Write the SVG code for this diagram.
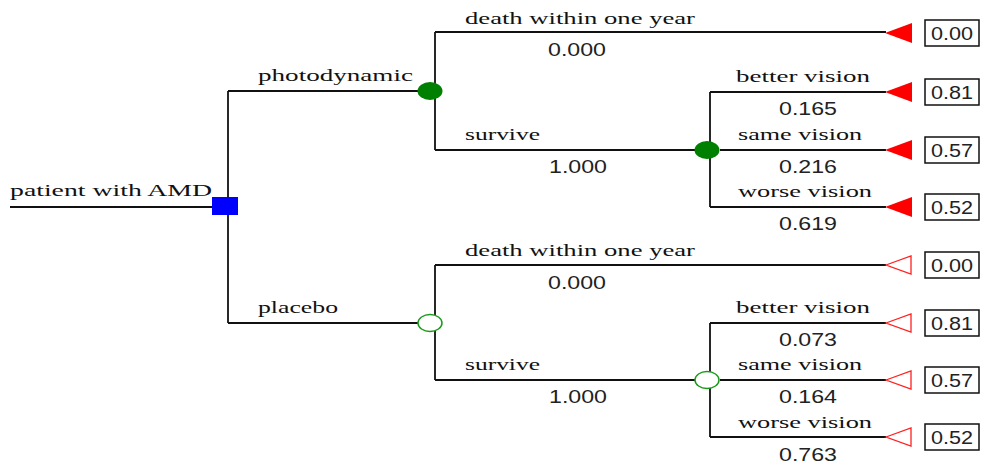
<svg xmlns="http://www.w3.org/2000/svg" width="983" height="468" viewBox="0 0 983 468">
<defs>
<style>
.ln{stroke:#111;stroke-width:1.8;fill:none}
.lb{font-family:"Liberation Serif","Times New Roman",serif;font-size:16.5px;fill:#111}
.nm{font-family:"Liberation Sans",Arial,sans-serif;font-size:19px;fill:#222;text-anchor:middle}
.bx{fill:#fff;stroke:#111;stroke-width:1.5}
.bt{font-family:"Liberation Sans",Arial,sans-serif;font-size:19px;fill:#222}
.tf{fill:#ff0000}
.to{fill:#fff;stroke:#ff2020;stroke-width:1.3}
.cf{fill:#008000}
.co{fill:#fff;stroke:#1a9a1a;stroke-width:1.5}
</style>
</defs>
<g id="connectors">
<path class="ln" d="M10 207H214"/>
<path class="ln" d="M228 91V323"/>
<path class="ln" d="M228 91H420M228 323H420"/>
<path class="ln" d="M435 32V150M435 32H886M435 150H697"/>
<path class="ln" d="M710 92V207M710 92H886M720 150H886M710 207H886"/>
<path class="ln" d="M435 265V380M435 265H886M435 380H697"/>
<path class="ln" d="M710 323V437M710 323H886M720 380H886M710 437H886"/>
</g>
<g id="root">
<text class="lb" x="10" y="196" textLength="202" lengthAdjust="spacingAndGlyphs">patient with AMD</text>
<rect x="212" y="197" width="26" height="18" fill="#0000ff"/>
</g>
<g id="photodynamic">
<text class="lb" x="258" y="81" textLength="155" lengthAdjust="spacingAndGlyphs">photodynamic</text>
<ellipse class="cf" cx="430" cy="91" rx="12.5" ry="9"/>
</g>
<g id="pd-death">
<text class="lb" x="465" y="24" textLength="230" lengthAdjust="spacingAndGlyphs">death within one year</text>
<text class="nm" x="577" y="56" textLength="58" lengthAdjust="spacingAndGlyphs">0.000</text>
<polygon class="tf" points="885,33 912,23 912,43"/>
<rect class="bx" x="925" y="20" width="54" height="26"/>
<text class="bt" x="931" y="40" textLength="42" lengthAdjust="spacingAndGlyphs">0.00</text>
</g>
<g id="pd-survive">
<text class="lb" x="465" y="140" textLength="75" lengthAdjust="spacingAndGlyphs">survive</text>
<text class="nm" x="578" y="173" textLength="58" lengthAdjust="spacingAndGlyphs">1.000</text>
<ellipse class="cf" cx="707" cy="150" rx="12.5" ry="9"/>
</g>
<g id="pd-better">
<text class="lb" x="736" y="82" textLength="134" lengthAdjust="spacingAndGlyphs">better vision</text>
<text class="nm" x="808" y="115" textLength="58" lengthAdjust="spacingAndGlyphs">0.165</text>
<polygon class="tf" points="885,92 912,82 912,102"/>
<rect class="bx" x="925" y="79" width="54" height="26"/>
<text class="bt" x="931" y="99" textLength="42" lengthAdjust="spacingAndGlyphs">0.81</text>
</g>
<g id="pd-same">
<text class="lb" x="738" y="140" textLength="124" lengthAdjust="spacingAndGlyphs">same vision</text>
<text class="nm" x="808" y="173" textLength="58" lengthAdjust="spacingAndGlyphs">0.216</text>
<polygon class="tf" points="885,150 912,140 912,160"/>
<rect class="bx" x="925" y="137" width="54" height="26"/>
<text class="bt" x="931" y="157" textLength="42" lengthAdjust="spacingAndGlyphs">0.57</text>
</g>
<g id="pd-worse">
<text class="lb" x="738" y="197" textLength="134" lengthAdjust="spacingAndGlyphs">worse vision</text>
<text class="nm" x="808" y="230" textLength="58" lengthAdjust="spacingAndGlyphs">0.619</text>
<polygon class="tf" points="885,207 912,197 912,217"/>
<rect class="bx" x="925" y="194" width="54" height="26"/>
<text class="bt" x="931" y="214" textLength="42" lengthAdjust="spacingAndGlyphs">0.52</text>
</g>
<g id="placebo">
<text class="lb" x="258" y="313" textLength="80" lengthAdjust="spacingAndGlyphs">placebo</text>
<ellipse class="co" cx="430" cy="323" rx="12" ry="8.5"/>
</g>
<g id="pl-death">
<text class="lb" x="465" y="256" textLength="230" lengthAdjust="spacingAndGlyphs">death within one year</text>
<text class="nm" x="577" y="289" textLength="58" lengthAdjust="spacingAndGlyphs">0.000</text>
<polygon class="to" points="886,265 911,256 911,274"/>
<rect class="bx" x="925" y="252" width="54" height="26"/>
<text class="bt" x="931" y="272" textLength="42" lengthAdjust="spacingAndGlyphs">0.00</text>
</g>
<g id="pl-survive">
<text class="lb" x="465" y="370" textLength="75" lengthAdjust="spacingAndGlyphs">survive</text>
<text class="nm" x="578" y="403" textLength="58" lengthAdjust="spacingAndGlyphs">1.000</text>
<ellipse class="co" cx="707" cy="380" rx="12" ry="8.5"/>
</g>
<g id="pl-better">
<text class="lb" x="736" y="313" textLength="134" lengthAdjust="spacingAndGlyphs">better vision</text>
<text class="nm" x="808" y="346" textLength="58" lengthAdjust="spacingAndGlyphs">0.073</text>
<polygon class="to" points="886,323 911,314 911,332"/>
<rect class="bx" x="925" y="310" width="54" height="26"/>
<text class="bt" x="931" y="330" textLength="42" lengthAdjust="spacingAndGlyphs">0.81</text>
</g>
<g id="pl-same">
<text class="lb" x="738" y="370" textLength="124" lengthAdjust="spacingAndGlyphs">same vision</text>
<text class="nm" x="808" y="403" textLength="58" lengthAdjust="spacingAndGlyphs">0.164</text>
<polygon class="to" points="886,380 911,371 911,389"/>
<rect class="bx" x="925" y="367" width="54" height="26"/>
<text class="bt" x="931" y="387" textLength="42" lengthAdjust="spacingAndGlyphs">0.57</text>
</g>
<g id="pl-worse">
<text class="lb" x="738" y="428" textLength="134" lengthAdjust="spacingAndGlyphs">worse vision</text>
<text class="nm" x="808" y="461" textLength="58" lengthAdjust="spacingAndGlyphs">0.763</text>
<polygon class="to" points="886,437 911,428 911,446"/>
<rect class="bx" x="925" y="424" width="54" height="26"/>
<text class="bt" x="931" y="444" textLength="42" lengthAdjust="spacingAndGlyphs">0.52</text>
</g>
</svg>
